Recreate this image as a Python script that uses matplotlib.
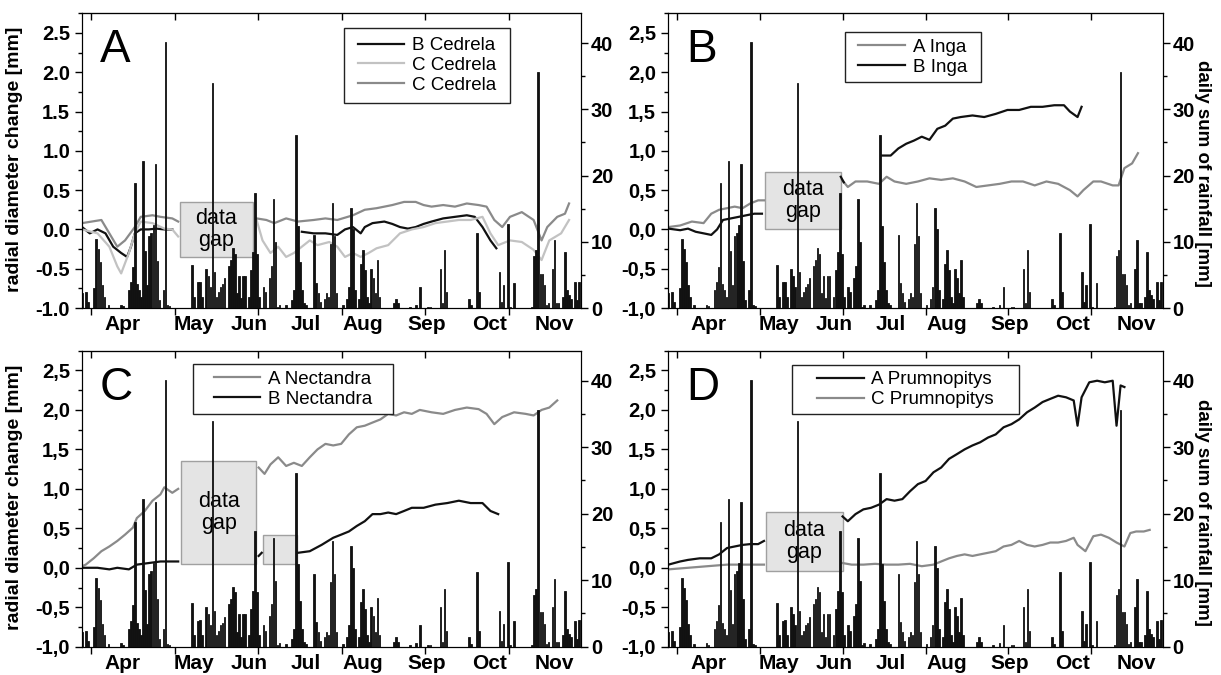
import numpy as np
import matplotlib
matplotlib.use("Agg")
import matplotlib.pyplot as plt
from matplotlib.patches import Rectangle
from matplotlib.ticker import MultipleLocator, FuncFormatter

plt.rcParams['font.family'] = ['Liberation Sans', 'DejaVu Sans']
plt.rcParams['font.weight'] = 'bold'

nan = np.nan

# daily rainfall: (day since 27 Mar, mm)
rain = [(0, 2.2), (2, 2.4), (3, 0.9), (6, 3.0), (7, 10.4), (8, 8.9), (9, 7.0), (10, 3.4), (11, 1.7),
        (13, 0.4), (19, 0.5), (20, 0.3), (23, 2.7), (24, 3.9), (25, 6.2), (26, 18.8), (27, 3.6),
        (28, 2.7), (29, 1.7), (30, 22.2), (31, 8.6), (32, 3.4), (33, 10.9), (34, 11.4), (35, 12.6),
        (36, 21.7), (37, 7.1), (38, 1.2), (40, 2.7), (41, 40.1), (42, 0.4), (43, 0.25),
        (54, 6.5), (55, 1.7), (57, 3.9), (58, 4.0), (59, 1.7), (61, 5.9), (62, 4.9), (63, 3.2),
        (64, 34.0), (65, 5.4), (66, 1.7), (67, 2.4), (68, 3.2), (69, 3.6), (70, 4.5), (72, 6.4),
        (73, 7.2), (74, 9.0), (75, 8.2), (76, 2.2), (77, 4.9), (78, 1.5), (79, 4.9), (80, 4.9),
        (82, 1.7), (83, 5.7), (84, 8.4), (85, 17.4), (86, 8.2), (87, 1.7), (89, 3.2), (90, 2.4),
        (92, 4.6), (93, 6.4), (94, 16.4), (95, 9.9), (96, 0.2), (97, 0.5), (100, 0.4), (103, 1.2),
        (104, 2.7), (105, 26.1), (106, 12.4), (107, 6.9), (108, 2.7), (109, 0.7), (110, 0.4),
        (114, 11.0), (115, 3.7), (116, 2.2), (117, 0.9), (119, 1.4), (120, 2.2), (121, 1.7),
        (122, 9.7), (123, 15.9), (124, 10.9), (125, 2.2), (128, 0.4), (130, 1.4), (131, 3.2),
        (132, 15.1), (133, 11.9), (134, 2.7), (136, 1.4), (137, 6.7), (138, 8.7), (139, 5.7),
        (140, 1.7), (141, 0.7), (142, 5.9), (143, 4.6), (144, 2.2), (145, 7.3), (146, 1.7),
        (153, 0.7), (154, 1.4), (155, 0.7), (161, 0.2), (164, 0.5), (166, 3.2), (170, 0.2),
        (171, 0.2), (176, 5.9), (177, 0.7), (178, 8.7), (179, 2.4), (190, 1.4), (191, 0.4),
        (194, 11.3), (195, 2.4), (205, 5.4), (206, 0.9), (207, 3.4), (209, 12.7), (210, 0.2),
        (212, 3.8), (221, 0.2), (222, 7.8), (223, 8.7), (224, 35.6), (225, 5.2), (226, 5.2),
        (227, 3.4), (228, 0.4), (229, 0.7), (231, 5.9), (232, 10.2), (233, 0.7), (234, 0.7),
        (236, 1.7), (237, 8.4), (238, 2.7), (239, 1.9), (240, 1.4), (242, 3.9), (243, 1.2), (244, 4.0)]

months = ['Apr', 'May', 'Jun', 'Jul', 'Aug', 'Sep', 'Oct', 'Nov']
month_pos = [20, 55, 82, 110, 138, 169, 200, 232]
tick_days = [4.5, 45.5, 86.5, 127.5, 168.5, 209.5]

# radial diameter change [mm]: (day, value), nan = data gap
b_cedrela = [(0, 0.03), (3.8, -0.05), (7.6, 0.0), (11.5, -0.05), (15.3, -0.22), (19.2, -0.30),
             (22.1, -0.35), (24, -0.22), (25.9, -0.05), (28.8, 0.0), (32.7, 0.0), (36.5, 0.01),
             (40.4, 0.0), (44.3, 0.0), (70, nan), (107.9, -0.03), (113.7, -0.05), (119.5, -0.05),
             (125.3, -0.07), (129.1, 0.0), (133, 0.03), (136.8, -0.05), (138.8, 0.03), (142.6, 0.08),
             (148.4, 0.10), (152.3, 0.07), (156.1, 0.03), (160, 0.01), (163.8, 0.03), (167.7, 0.07),
             (171.6, 0.10), (177.3, 0.14), (183.1, 0.16), (188.9, 0.18), (192.8, 0.16), (196.6, 0.03),
             (200.5, -0.14), (203.4, -0.24)]
c_cedrela_1 = [(0, 0.0), (7.6, -0.05), (13.4, -0.22), (17.3, -0.47), (19.2, -0.56), (23, -0.30),
               (25.9, -0.05), (28.8, 0.10), (34.6, 0.08), (40.4, 0.01), (44.3, 0.0), (47.2, -0.09),
               (66, nan), (85.7, 0.12), (88.6, -0.14), (92.5, -0.30), (96.3, -0.22), (100.2, -0.35),
               (104, -0.30), (107.9, -0.22), (111.8, -0.14), (115.6, -0.20), (121.4, -0.16),
               (125.3, -0.22), (129.1, -0.35), (133, -0.30), (136.8, -0.35), (140.7, -0.30),
               (144.6, -0.24), (150.3, -0.20), (156.1, -0.05), (161.9, 0.0), (167.7, 0.03),
               (173.5, 0.08), (179.3, 0.10), (185, 0.12), (190.8, 0.12), (196.6, 0.16),
               (200.5, -0.05), (204.3, -0.20), (210.1, -0.14), (215.9, -0.16), (221.7, -0.26),
               (225.6, -0.39), (229.4, -0.14), (235.2, -0.05), (239.1, 0.12)]
c_cedrela_2 = [(0, 0.08), (9.5, 0.12), (13.4, -0.05), (17.3, -0.22), (21.1, -0.14), (25.9, 0.03),
               (28.8, 0.16), (34.6, 0.18), (38.5, 0.16), (44.3, 0.14), (47.2, 0.10), (66, nan),
               (85.7, 0.14), (90.5, 0.12), (94.4, 0.08), (100.2, 0.14), (106, 0.10), (113.7, 0.12),
               (119.5, 0.14), (125.3, 0.12), (133, 0.18), (138.8, 0.25), (144.6, 0.27), (152.3, 0.31),
               (158.1, 0.35), (163.8, 0.35), (167.7, 0.31), (171.6, 0.29), (177.3, 0.31), (183.1, 0.29),
               (188.9, 0.33), (194.7, 0.31), (198.6, 0.29), (202.4, 0.12), (206.3, 0.03), (210.1, 0.16),
               (215.9, 0.22), (221.7, 0.12), (225.6, -0.14), (228.4, 0.03), (233.3, 0.16),
               (237.1, 0.20), (239.1, 0.33)]

a_inga = [(0.2, 0.03), (6, 0.05), (11.8, 0.10), (17.6, 0.08), (21.4, 0.20), (25.3, 0.25), (29.2, 0.27),
          (33, 0.29), (36.9, 0.27), (40.7, 0.33), (44.6, 0.37), (47.5, 0.37), (66, nan), (86.1, 0.63),
          (89, 0.54), (92.8, 0.61), (98.6, 0.61), (104.4, 0.58), (108.2, 0.67), (112.1, 0.61),
          (117.9, 0.58), (123.7, 0.61), (129.4, 0.65), (135.2, 0.63), (141, 0.65), (146.8, 0.61),
          (152.6, 0.54), (158.4, 0.56), (164.2, 0.58), (170, 0.61), (175.7, 0.61), (181.5, 0.56),
          (187.3, 0.61), (193.1, 0.58), (198.9, 0.50), (202.7, 0.42), (205.6, 0.50), (210.5, 0.61),
          (214.3, 0.61), (220.1, 0.56), (223, 0.56), (225.9, 0.78), (229.7, 0.84), (232.6, 0.97)]
b_inga = [(0.2, 0.01), (6, -0.01), (9.9, 0.01), (13.7, -0.03), (17.6, -0.05), (21.4, -0.07),
          (24.3, 0.0), (27.2, 0.12), (31.1, 0.14), (35, 0.16), (38.8, 0.18), (42.7, 0.20),
          (46.5, 0.20), (66, nan), (85.5, 0.67), (87, 0.60), (96, nan), (105.7, 0.94), (110.2, 0.94),
          (114, 1.03), (117.9, 1.09), (121.7, 1.13), (125.6, 1.18), (129.4, 1.14), (133.3, 1.28),
          (137.2, 1.32), (141, 1.41), (144.9, 1.43), (150.7, 1.45), (156.5, 1.43), (162.2, 1.47),
          (168, 1.52), (173.8, 1.52), (179.6, 1.56), (185.4, 1.56), (191.2, 1.58), (196, 1.58),
          (198.9, 1.50), (202.7, 1.43), (204.7, 1.56)]

a_nectandra = [(0, 0.02), (1.8, 0.04), (5.7, 0.12), (9.5, 0.21), (13.4, 0.27), (17.3, 0.34), (21.1, 0.42),
               (25, 0.51), (26.9, 0.63), (30.8, 0.72), (34.6, 0.85), (38.5, 0.93), (40.4, 1.02),
               (44.3, 0.95), (47.2, 1.0), (66, nan), (86.7, 1.27), (89.6, 1.19), (92.5, 1.31),
               (96.3, 1.40), (100.2, 1.29), (104, 1.33), (107.9, 1.29), (111.8, 1.40), (115.6, 1.50),
               (119.5, 1.57), (123.3, 1.55), (127.2, 1.57), (131, 1.69), (134.9, 1.78), (138.8, 1.80),
               (142.6, 1.84), (146.5, 1.88), (150.3, 1.95), (154.2, 1.93), (158.1, 1.97), (161.9, 1.95),
               (165.8, 2.0), (171.6, 1.97), (177.3, 1.95), (183.1, 2.0), (188.9, 2.03), (194.7, 2.01),
               (198.6, 1.95), (202.4, 1.82), (206.3, 1.91), (212.1, 1.97), (217.8, 1.95),
               (221.7, 1.93), (225.6, 2.0), (229.4, 2.03), (233.3, 2.12)]
b_nectandra = [(0, 0.0), (7.6, 0.0), (13.4, -0.02), (17.3, 0.0), (23, -0.02), (26.9, 0.04),
               (32.7, 0.06), (38.5, 0.08), (44.3, 0.08), (47.2, 0.08), (66, nan), (86.7, 0.15),
               (88.2, 0.19), (97, nan), (106, 0.19), (111.8, 0.21), (117.6, 0.29), (123.3, 0.38),
               (127.2, 0.42), (131, 0.46), (134.9, 0.53), (138.8, 0.59), (142.6, 0.68), (146.5, 0.68),
               (150.3, 0.70), (154.2, 0.68), (158.1, 0.72), (161.9, 0.76), (167.7, 0.76), (173.5, 0.80),
               (179.3, 0.82), (185, 0.85), (190.8, 0.82), (196.6, 0.82), (200.5, 0.72), (204.3, 0.68)]

a_prumnopitys = [(0.2, 0.04), (6, 0.08), (9.9, 0.10), (15.7, 0.12), (21.4, 0.12), (25.3, 0.17),
                 (29.2, 0.25), (33, 0.27), (36.9, 0.29), (40.7, 0.30), (44.6, 0.30), (47.5, 0.34),
                 (66, nan), (86.4, 0.65), (89, 0.59), (92.8, 0.68), (96.7, 0.74), (100.5, 0.76),
                 (104.4, 0.80), (108.2, 0.87), (112.1, 0.85), (116, 0.87), (119.8, 0.97), (123.7, 1.06),
                 (127.5, 1.10), (131.4, 1.21), (135.2, 1.27), (139.1, 1.38), (143, 1.44), (146.8, 1.50),
                 (150.7, 1.55), (154.5, 1.59), (158.4, 1.65), (162.2, 1.69), (166.1, 1.78), (170, 1.82),
                 (173.8, 1.88), (177.7, 1.97), (181.5, 2.03), (185.4, 2.10), (189.2, 2.14), (193.1, 2.18),
                 (197, 2.16), (200.8, 2.12), (202.7, 1.80), (204.7, 2.16), (208.5, 2.35), (212.4, 2.37),
                 (216.2, 2.35), (220.1, 2.37), (222, 1.80), (224, 2.31), (225.9, 2.29)]
c_prumnopitys = [(0.2, -0.02), (9.9, 0.0), (19.5, 0.02), (29.2, 0.04), (38.8, 0.04), (47.5, 0.04),
                 (66, nan), (86.4, 0.06), (90.9, 0.04), (96.7, 0.04), (102.5, 0.05), (108.2, 0.04),
                 (114, 0.04), (119.8, 0.05), (125.6, 0.02), (131.4, 0.04), (135.2, 0.08), (139.1, 0.12),
                 (143, 0.15), (146.8, 0.17), (150.7, 0.15), (154.5, 0.17), (158.4, 0.19), (162.2, 0.21),
                 (166.1, 0.27), (170, 0.29), (173.8, 0.34), (177.7, 0.29), (181.5, 0.27), (185.4, 0.29),
                 (189.2, 0.32), (193.1, 0.32), (197, 0.34), (200.8, 0.38), (202.7, 0.29), (206.6, 0.21),
                 (210.5, 0.40), (214.3, 0.42), (218.2, 0.38), (222, 0.32), (225.9, 0.27), (228.8, 0.44),
                 (231.7, 0.46), (235.5, 0.46), (238.4, 0.48)]

BLACK, GRAY, LIGHT = '#111111', '#8a8a8a', '#c2c2c2'

rain_day = [d for d, _ in rain]
rain_mm = [m for _, m in rain]

fig = plt.figure(figsize=(12.21, 6.75), dpi=100)


def fmt(comma):
    def f(v, pos):
        if abs(v) < 1e-9:
            v = 0.0
        s = f'{v:.1f}'
        return s.replace('.', ',') if comma else s
    return FuncFormatter(f)


def draw_panel(rect, letter, series, gaps, legend_box, comma, left_label, right_label):
    ax = fig.add_axes(rect)
    handles = []
    for data, color, name in series:
        h, = ax.plot([d for d, _ in data], [v for _, v in data], color=color, lw=1.6, label=name)
        handles.append(h)
    for x0, x1, y0, y1, txt in gaps:
        ax.add_patch(Rectangle((x0, y0), x1 - x0, y1 - y0, facecolor='#e4e4e4',
                               edgecolor='#a0a0a0', lw=1.0, zorder=0.5))
        if txt:
            ax.text((x0 + x1) / 2, (y0 + y1) / 2, 'data\ngap', ha='center', va='center',
                    fontsize=15.5, fontweight='normal', linespacing=1.05)
    ax.set_xlim(0, 245)
    ax.set_ylim(-1.0, 2.75)
    ax.set_xticks(tick_days)
    ax.set_xticklabels([])
    ax.set_xticks(month_pos, minor=True)
    ax.set_xticklabels(months, minor=True)
    ax.tick_params(axis='x', which='major', direction='out', length=5, width=1)
    ax.tick_params(axis='x', which='minor', length=0, labelsize=15, pad=5)
    ax.yaxis.set_major_locator(MultipleLocator(0.5))
    ax.yaxis.set_minor_locator(MultipleLocator(0.25))
    ax.yaxis.set_major_formatter(fmt(comma))
    ax.tick_params(axis='y', which='major', length=5, width=1, labelsize=14.5)
    ax.tick_params(axis='y', which='minor', length=3, width=1)
    if left_label:
        ax.set_ylabel('radial diameter change [mm]', fontsize=14, fontweight='bold')
        ax.yaxis.set_label_coords(-0.118, 0.505)

    top = ax.secondary_xaxis('top')
    top.set_xticks(tick_days)
    top.set_xticklabels([])
    top.tick_params(direction='in', length=5, width=1)

    ax2 = ax.twinx()
    ax2.bar(rain_day, rain_mm, width=0.8, color=BLACK, edgecolor=BLACK, linewidth=0.6)
    ax2.set_ylim(0, 44.5)
    ax2.yaxis.set_major_locator(MultipleLocator(10))
    ax2.yaxis.set_minor_locator(MultipleLocator(5))
    ax2.tick_params(axis='y', which='major', length=5, width=1, labelsize=14.5, pad=2)
    ax2.tick_params(axis='y', which='minor', length=3, width=1)
    if right_label:
        ax2.set_ylabel('daily sum of rainfall [mm]', fontsize=13.5, fontweight='bold',
                       rotation=270)
        ax2.yaxis.set_label_coords(1.097, 0.455)

    lx0, lx1, ly0, ly1 = legend_box
    ax2.add_patch(Rectangle((lx0, ly0), lx1 - lx0, ly1 - ly0, transform=ax2.transAxes,
                            facecolor='white', edgecolor='#222222', lw=1.0, zorder=4))
    ax2.legend(handles, [h.get_label() for h in handles], loc='center',
               bbox_to_anchor=((lx0 + lx1) / 2, (ly0 + ly1) / 2), frameon=False,
               prop={'size': 13.5, 'weight': 'normal'}, handlelength=2.5, handletextpad=0.4,
               labelspacing=0.15, borderpad=0.1)

    ax2.text(0.036, 0.835, letter, transform=ax2.transAxes, fontsize=33,
             fontweight='normal', va='baseline', ha='left')


draw_panel([0.0672, 0.5437, 0.4087, 0.4366], 'A',
           [(b_cedrela, BLACK, 'B Cedrela'), (c_cedrela_1, LIGHT, 'C Cedrela'),
            (c_cedrela_2, GRAY, 'C Cedrela')],
           [(48, 83.7, -0.35, 0.35, True)], (0.525, 0.857, 0.696, 0.95), False, True, False)
draw_panel([0.5471, 0.5437, 0.4054, 0.4366], 'B',
           [(a_inga, GRAY, 'A Inga'), (b_inga, BLACK, 'B Inga')],
           [(48, 85.4, 0.01, 0.73, True)], (0.357, 0.632, 0.768, 0.935), True, False, True)
draw_panel([0.0672, 0.0419, 0.4087, 0.4385], 'C',
           [(a_nectandra, GRAY, 'A Nectandra'), (b_nectandra, BLACK, 'B Nectandra')],
           [(48.5, 85.6, 0.05, 1.35, True), (88.6, 105.6, 0.05, 0.41, False)],
           (0.222, 0.623, 0.786, 0.955), True, True, False)
draw_panel([0.5471, 0.0419, 0.4054, 0.4385], 'D',
           [(a_prumnopitys, BLACK, 'A Prumnopitys'), (c_prumnopitys, GRAY, 'C Prumnopitys')],
           [(48.4, 86.4, -0.04, 0.71, True)], (0.25, 0.709, 0.785, 0.952), True, False, True)

fig.savefig('out.png', dpi=100)
